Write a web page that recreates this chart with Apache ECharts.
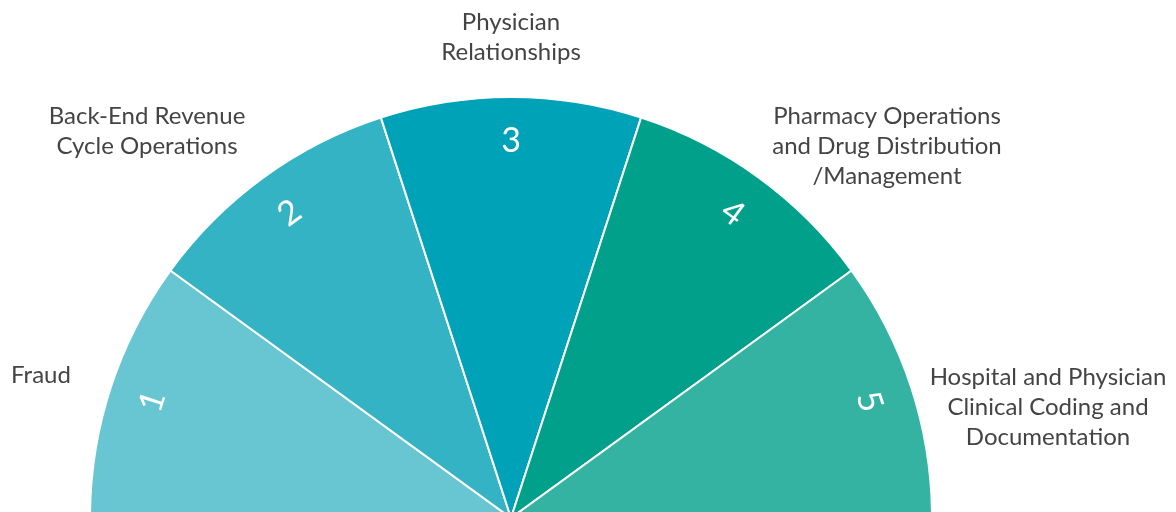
<!DOCTYPE html>
<html>
<head>
<meta charset="utf-8">
<style>
html,body{margin:0;padding:0;background:#fff;}
#chart{width:1176px;height:512px;}
</style>
<script src="https://cdn.jsdelivr.net/npm/echarts@6/dist/echarts.min.js"></script>
</head>
<body>
<div id="chart"></div>
<script>
// Data
const categories = [
  'Fraud',
  'Back-End Revenue\nCycle Operations',
  'Physician\nRelationships',
  'Pharmacy Operations\nand Drug Distribution\n/Management',
  'Hospital and Physician\nClinical Coding and\nDocumentation'
];
const rankLabels = ['1', '2', '3', '4', '5'];
const values = [1, 1, 1, 1, 1];
const colors = ['#67c6d2', '#34b3c4', '#00a2b8', '#00a08b', '#34b3a2'];
// label anchor offsets from the pie centre (pixels)
const labelOffsets = [[-470, -143], [-364, -387], [0, -481], [376, -372], [537, -111]];

const CX = 511, CY = 518, R = 421;

const chart = echarts.init(document.getElementById('chart'), null, {renderer: 'canvas'});

const richCenter = {c: {align: 'center', fontFamily: 'Lato', fontSize: 24, color: '#444', lineHeight: 30}};

chart.setOption({
  animation: false,
  series: [
    {
      type: 'pie',
      center: [CX, CY],
      radius: [0, R],
      startAngle: 180,
      endAngle: 0,
      clockwise: true,
      silent: true,
      itemStyle: {borderColor: '#fff', borderWidth: 2},
      label: {
        show: true,
        position: 'outside',
        overflow: 'none',
        width: 400,
        formatter: p => p.name.split('\n').map(s => '{c|' + s + '}').join('\n'),
        rich: richCenter,
        fontFamily: 'Lato', fontSize: 24, color: '#444', lineHeight: 30
      },
      labelLine: {show: false},
      labelLayout: function (p) {
        const o = labelOffsets[p.dataIndex];
        return {x: CX + o[0], y: CY + o[1], align: 'center', verticalAlign: 'middle'};
      },
      data: categories.map((c, i) => ({name: c, value: values[i], itemStyle: {color: colors[i]}}))
    },
    {
      type: 'pie',
      center: [CX, CY],
      radius: [327, R],
      startAngle: 180,
      endAngle: 0,
      clockwise: true,
      silent: true,
      itemStyle: {color: 'rgba(0,0,0,0)', borderWidth: 0},
      label: {
        show: true,
        position: 'inside',
        rotate: 'tangential',
        formatter: p => rankLabels[p.dataIndex],
        fontFamily: 'Lato', fontSize: 34, fontWeight: 'normal', color: '#fff'
      },
      labelLine: {show: false},
      data: rankLabels.map((r, i) => ({name: 'rank' + r, value: values[i]}))
    }
  ]
});
</script>
</body>
</html>
